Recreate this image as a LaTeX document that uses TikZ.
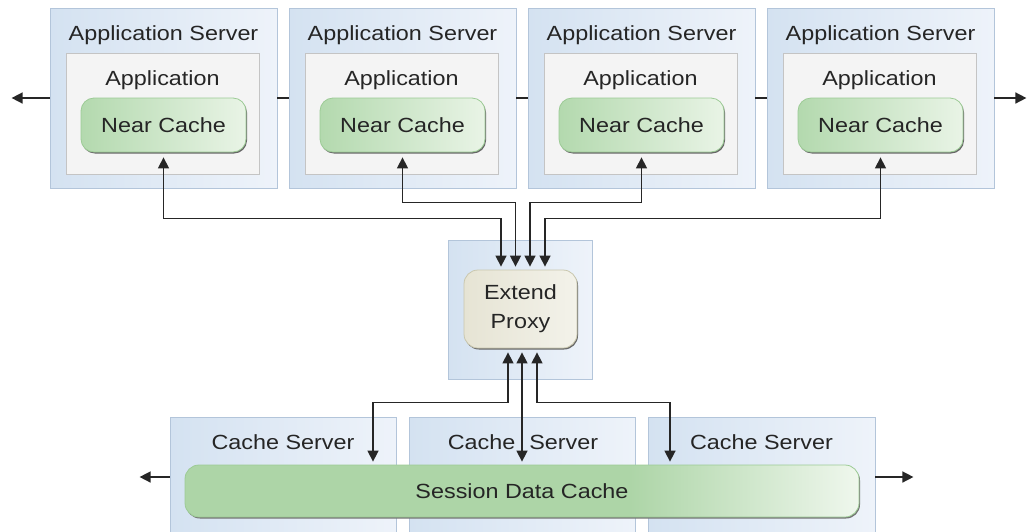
\documentclass[tikz,border=0pt]{standalone}
\usepackage{fontspec}
\setmainfont{Liberation Sans}[FakeStretch=1.14]
\usetikzlibrary{arrows.meta,shadows}
\definecolor{srvL}{HTML}{D4E2F1}
\definecolor{srvR}{HTML}{EEF3FA}
\definecolor{srvborder}{HTML}{B3C5DA}
\definecolor{srvshadow}{HTML}{9AA9BE}
\definecolor{appfill}{HTML}{F4F4F4}
\definecolor{appborder}{HTML}{C4C4C4}
\definecolor{appshadow}{HTML}{555555}
\definecolor{ncL}{HTML}{B3D9AE}
\definecolor{ncR}{HTML}{E9F4E6}
\definecolor{ncborder}{HTML}{9CCB95}
\definecolor{pxL}{HTML}{E6E4D4}
\definecolor{pxR}{HTML}{F3F2EA}
\definecolor{pxborder}{HTML}{C9C7AE}
\definecolor{scg}{HTML}{ADD5A7}
\definecolor{scgl}{HTML}{EFF7ED}
\definecolor{txt}{HTML}{252525}
\definecolor{linecol}{HTML}{262626}
\pgfdeclarehorizontalshading{sessionshade}{100bp}{color(0bp)=(scg); color(25bp)=(scg); color(58bp)=(scg); color(75bp)=(scgl); color(100bp)=(scgl)}
\tikzset{
  lbl/.style={font=\fontsize{20.5}{29}\selectfont, text=txt, inner sep=0pt},
  srv/.style={draw=srvborder, line width=0.8pt, left color=srvL, right color=srvR, inner sep=0pt,
    drop shadow={shadow xshift=1.2pt, shadow yshift=-1.2pt, fill=srvshadow, opacity=1}},
  appbox/.style={draw=appborder, line width=0.8pt, fill=appfill, inner sep=0pt,
    minimum width=193pt, minimum height=121pt,
    drop shadow={shadow xshift=1.4pt, shadow yshift=-1.4pt, fill=appshadow, opacity=1}},
  nearc/.style={lbl, draw=ncborder, line width=0.8pt, left color=ncL, right color=ncR,
    rounded corners=13pt, minimum width=165pt, minimum height=54pt,
    drop shadow={shadow xshift=1pt, shadow yshift=-1.5pt, fill=black!60, opacity=1}},
  proxybox/.style={lbl, align=center, draw=pxborder, line width=0.8pt, left color=pxL, right color=pxR,
    rounded corners=14pt, minimum width=113pt, minimum height=78pt,
    drop shadow={shadow xshift=1pt, shadow yshift=-1.5pt, fill=black!60, opacity=1}},
  sessbox/.style={lbl, draw=ncborder, line width=0.8pt, shading=sessionshade,
    rounded corners=14pt, minimum width=674pt, minimum height=52pt,
    drop shadow={shadow xshift=1pt, shadow yshift=-1.5pt, fill=black!55, opacity=1}},
  conn/.style={draw=linecol, line width=1.5pt},
  both/.style={conn, {Triangle[length=11pt,width=11pt]}-{Triangle[length=11pt,width=11pt]}},
  one/.style={conn, -{Triangle[length=11pt,width=11pt]}}
}
\begin{document}
\begin{tikzpicture}[x=1pt,y=-1pt]
\useasboundingbox (0,0) rectangle (1027,531);
\clip (0,0) rectangle (1027,531);
\fill[white] (0,0) rectangle (1027,531);

% application servers
\foreach \i in {1,2,3,4}{
  \pgfmathsetmacro{\cx}{163.5+239*(\i-1)}
  \node[srv, minimum width=227pt, minimum height=180pt] (as\i) at (\cx,98) {};
  \node[lbl, anchor=base] (ast\i) at (\cx,40) {Application Server};
  \node[appbox] (ab\i) at (\cx-1,113.5) {};
  \node[lbl, anchor=base] (abt\i) at (\cx-1,85) {Application};
  \node[nearc] (nc\i) at (\cx,125) {Near Cache};
}
\draw[conn] (as1.east) -- (as2.west);
\draw[conn] (as2.east) -- (as3.west);
\draw[conn] (as3.east) -- (as4.west);
\draw[one] (as1.west) -- ++(-38,0);
\draw[one] (as4.east) -- ++(32,0);

% extend proxy
\node[srv, minimum width=144pt, minimum height=139pt] (pxo) at (520,309.5) {};
\node[proxybox] (proxy) at (520.5,309) {Extend\\Proxy};

% cache servers
\node[srv, minimum width=226pt, minimum height=120pt] (cs1) at (283,477) {};
\node[srv, minimum width=226pt, minimum height=120pt] (cs2) at (522,477) {};
\node[srv, minimum width=227pt, minimum height=120pt] (cs3) at (761.5,477) {};
\node[lbl, anchor=base] (cst1) at (283,449) {Cache Server};
\node[lbl, anchor=base] (cst2) at (523,449) {Cache\hspace{14pt}Server};
\node[lbl, anchor=base] (cst3) at (761.5,449) {Cache Server};
\node[sessbox] (sess) at (522,491) {Session Data Cache};
\draw[one] (cs1.west) -- ++(-30,0);
\draw[one] (cs3.east) -- ++(38,0);

% near caches to proxy
\draw[both, shorten <=5pt, shorten >=3pt] (nc1.south) -- ++(0,66) -| ([xshift=-19.5pt]proxy.north);
\draw[both, shorten <=5pt, shorten >=3pt] (nc2.south) -- ++(0,50) -| ([xshift=-5pt]proxy.north);
\draw[both, shorten <=5pt, shorten >=3pt] (nc3.south) -- ++(0,50) -| ([xshift=9.5pt]proxy.north);
\draw[both, shorten <=5pt, shorten >=3pt] (nc4.south) -- ++(0,66) -| ([xshift=24.5pt]proxy.north);

% proxy to session data cache
\draw[both, shorten <=4pt, shorten >=3pt] ([xshift=-12.5pt]proxy.south) -- ++(0,54) -| ([xshift=-149pt]sess.north);
\draw[both, shorten <=4pt, shorten >=3pt] ([xshift=1.5pt]proxy.south) -- (sess.north);
\draw[both, shorten <=4pt, shorten >=3pt] ([xshift=16.5pt]proxy.south) -- ++(0,54) -| ([xshift=148pt]sess.north);
\end{tikzpicture}
\end{document}
